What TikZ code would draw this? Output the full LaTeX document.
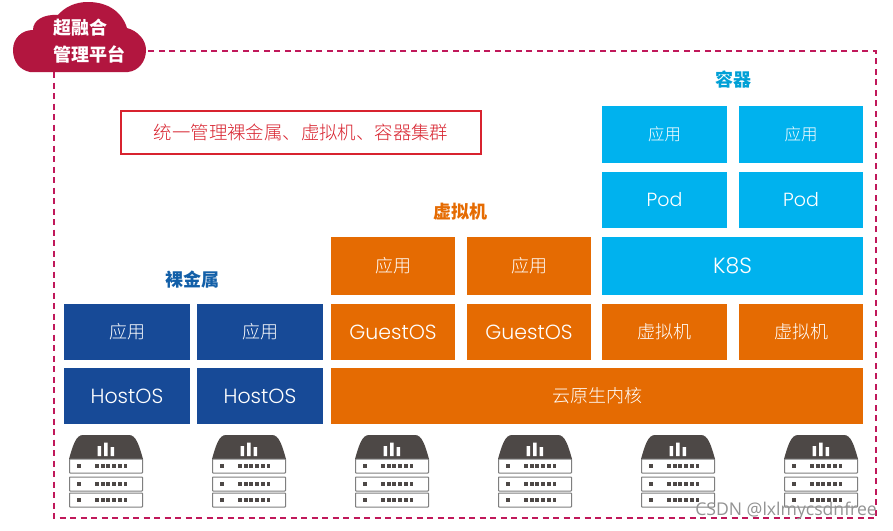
\documentclass[tikz,border=0pt]{standalone}
\usepackage{fontspec}
\setmainfont{Noto Sans CJK SC}
\newfontfamily\cjklight{Noto Sans CJK SC Light}
\newfontfamily\latinlight{Poppins Light}
\newfontfamily\markfont{Open Sans}
\definecolor{crimson}{HTML}{B2163F}
\definecolor{framepink}{HTML}{C0185A}
\definecolor{navy}{HTML}{174A97}
\definecolor{burnt}{HTML}{E56B02}
\definecolor{sky}{HTML}{00B2EE}
\definecolor{rackdark}{HTML}{4D4846}
\definecolor{rackedge}{HTML}{7F7F7F}
\definecolor{alertred}{HTML}{D8232F}
\tikzset{
  x=1pt,y=-1pt,
  block/.style={inner sep=0pt,text=white,font=\cjklight\fontsize{18}{20}\selectfont},
  bluebox/.style={block,fill=navy},
  orangebox/.style={block,fill=burnt},
  skybox/.style={block,fill=sky},
  heading/.style={inner sep=0pt,font=\fontsize{18}{20}\selectfont\bfseries},
  rackunit/.style={draw=rackedge,fill=white,line width=1pt,rounded corners=0.6pt},
  rackled/.style={fill=rackdark,draw=none},
  serverpic/.pic={
    \fill[rackdark] (-37,24) .. controls (-33,10) and (-30,0) .. (-23,0) -- (23,0)
       .. controls (30,0) and (33,10) .. (37,24) -- cycle;
    \fill[white] (-8.5,11) rectangle (-5,21) (-2,7.5) rectangle (1.5,21) (4.5,12) rectangle (8,21);
    \foreach \ya/\yb in {24/38,42/56,58/72}{
      \draw[rackunit] (-36.5,\ya) rectangle (36.5,\yb);
      \fill[rackled] (-29,\ya/2+\yb/2-2) rectangle (-25,\ya/2+\yb/2+2);
      \foreach \k in {0,...,5}{
        \fill[rackled] (-11+\k*5.7,\ya/2+\yb/2-2) rectangle (-7.2+\k*5.7,\ya/2+\yb/2+2);
      }
    }
  }
}
\newcommand{\boxat}[7]{%
  \node[#1,minimum width=#5-#3,minimum height=#6-#4,anchor=center] (#2) at ({(#3+#5)/2},{(#4+#6)/2}) {#7};}
\newcommand{\wide}[1]{{\latinlight\fontsize{20.5}{22}\selectfont #1}}
\begin{document}
\begin{tikzpicture}
\useasboundingbox (0,0) rectangle (893,530);
\fill[white] (0,0) rectangle (893,530);
% frame
\coordinate (frameA) at (54,51);
\coordinate (frameB) at (876,518);
\draw[framepink,line width=1.2pt,dash pattern=on 6pt off 4.5pt] (frameA) rectangle (frameB);
% cloud
\fill[crimson] (30,72) .. controls (20,70) and (13,62) .. (13,50)
  .. controls (13,38) and (22,30) .. (33,30)
  .. controls (33,20) and (44,14) .. (58,15)
  .. controls (65,7) and (75,2) .. (88,2)
  .. controls (108,2) and (122,12) .. (127,28)
  .. controls (138,31) and (146,40) .. (146,50)
  .. controls (146,62) and (138,71) .. (128,72) -- cycle;
\node[inner sep=0pt,text=white,font=\fontsize{18}{20}\selectfont\bfseries] (cloudA) at (80,28) {超融合};
\node[inner sep=0pt,text=white,font=\fontsize{18}{20}\selectfont\bfseries] (cloudB) at (89,54) {管理平台};
% notice
\node[draw=alertred,line width=1.1pt,minimum width=360pt,minimum height=43pt,inner sep=0pt,text=alertred,font=\cjklight\fontsize{18.4}{20}\selectfont] (notice) at (301,132.5) {统一管理裸金属、虚拟机、容器集群};
% headings
\node[heading,text=navy!80!sky] (hbare) at (192,280) {裸金属};
\node[heading,text=burnt] (hvm) at (460,212) {虚拟机};
\node[heading,text=sky!90!black] (hcont) at (733,80) {容器};
% bare metal
\boxat{bluebox}{ba}{64}{304}{190}{360}{应用}
\boxat{bluebox}{bb}{197}{304}{323}{360}{应用}
\boxat{bluebox}{bc}{64}{368}{190}{424}{\wide{HostOS}}
\boxat{bluebox}{bd}{197}{368}{323}{424}{\wide{HostOS}}
% virtual machines
\boxat{orangebox}{oa}{331}{237}{455}{295}{应用}
\boxat{orangebox}{ob}{467}{237}{591}{295}{应用}
\boxat{orangebox}{oc}{331}{304}{455}{360}{\wide{GuestOS}}
\boxat{orangebox}{od}{467}{304}{591}{360}{\wide{GuestOS}}
\boxat{orangebox}{oe}{602}{304}{727}{360}{虚拟机}
\boxat{orangebox}{of}{739}{304}{863}{360}{虚拟机}
\boxat{orangebox}{og}{331}{368}{863}{424}{云原生内核}
% containers
\boxat{skybox}{ca}{602}{106}{727}{163}{\fontsize{16.5}{18}\selectfont 应用}
\boxat{skybox}{cb}{739}{106}{863}{163}{\fontsize{16.5}{18}\selectfont 应用}
\boxat{skybox}{cc}{602}{172}{727}{228}{{\latinlight\fontsize{19}{22}\selectfont Pod}}
\boxat{skybox}{cd}{739}{172}{863}{228}{{\latinlight\fontsize{19}{22}\selectfont Pod}}
\boxat{skybox}{ce}{602}{237}{863}{295}{{\latinlight\fontsize{22}{24}\selectfont K8S}}
% servers
\foreach \cx in {106,249,392,535,678,821}{
  \pic at (\cx,435) {serverpic};
}
% watermark
\node[inner sep=0pt,anchor=east,text=gray!85,font=\markfont\fontsize{17.6}{20}\selectfont] (mark) at (877,511) {CSDN @lxlmycsdnfree};
\end{tikzpicture}
\end{document}
